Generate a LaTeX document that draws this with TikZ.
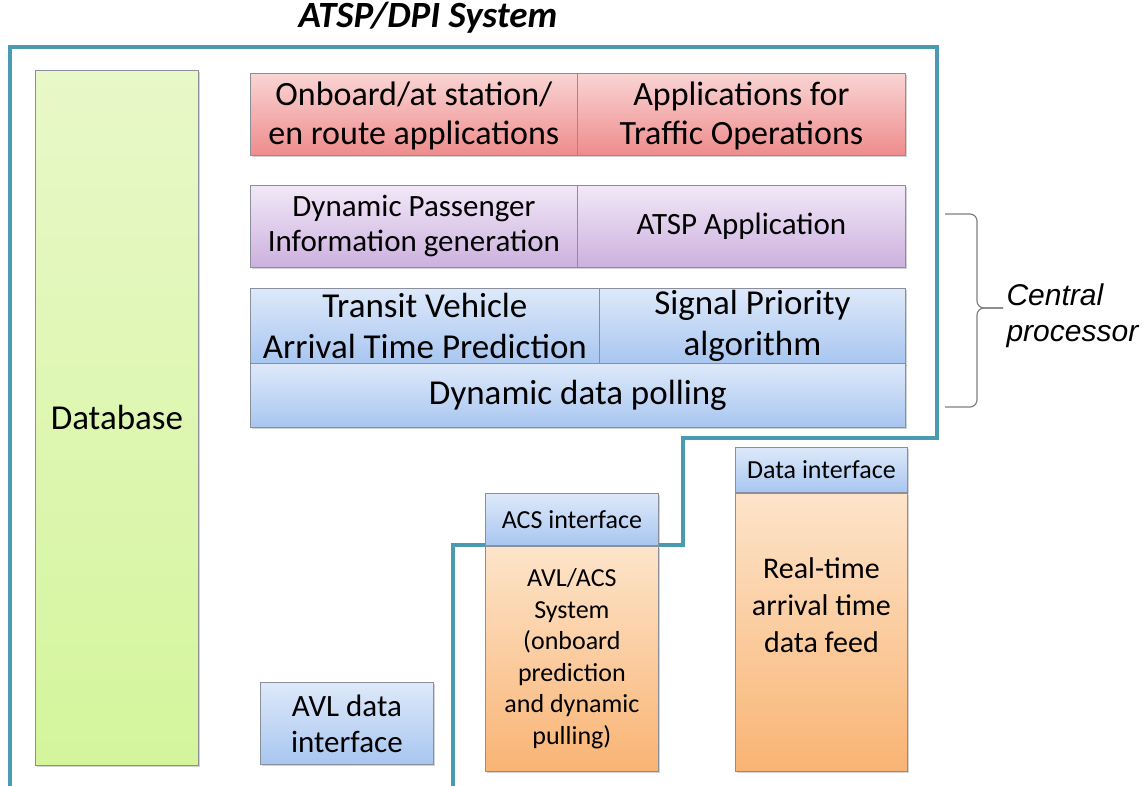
\documentclass[tikz,border=0pt]{standalone}
\usepackage{fontspec}
\setmainfont{Carlito}
\newfontfamily\arialfont{Liberation Sans}
\usetikzlibrary{shadows}
\definecolor{outlineteal}{HTML}{4A9BB2}
\definecolor{boxedge}{HTML}{8A8F99}
\tikzset{
  box/.style={draw=boxedge, line width=0.8pt, anchor=north west, align=center,
    inner sep=2pt, drop shadow={shadow xshift=1.5pt, shadow yshift=-2pt, opacity=0.35}},
  greenbox/.style={box, top color={rgb,255:red,232;green,248;blue,200}, bottom color={rgb,255:red,212;green,245;blue,156}},
  redbox/.style={box, top color={rgb,255:red,250;green,212;blue,212}, bottom color={rgb,255:red,238;green,140;blue,140}},
  purplebox/.style={box, top color={rgb,255:red,242;green,232;blue,248}, bottom color={rgb,255:red,204;green,176;blue,222}},
  bluebox/.style={box, top color={rgb,255:red,222;green,233;blue,250}, bottom color={rgb,255:red,168;green,198;blue,240}},
  orangebox/.style={box, top color={rgb,255:red,253;green,228;blue,202}, bottom color={rgb,255:red,249;green,180;blue,116}},
  bigtext/.style={font=\fontsize{34}{39}\selectfont},
  bluetext/.style={font=\fontsize{35}{41}\selectfont},
  midtext/.style={font=\fontsize{31}{35}\selectfont},
  smalltext/.style={font=\fontsize{26}{30}\selectfont},
  bracket/.style={gray, line width=1.2pt, rounded corners=7pt}
}
\begin{document}
\begin{tikzpicture}[x=1pt,y=-1pt]
  \useasboundingbox (0,0) rectangle (1146,786);
  % title and system outline
  \node (title) at (428,18) {\fontsize{37}{40}\selectfont\bfseries\itshape ATSP/DPI System};
  \draw[outlineteal, line width=3.5pt]
    (10,786) -- (10,47) -- (937,47) -- (937,438) -- (683,438) -- (683,545) -- (453,545) -- (453,786);
  % database
  \node[greenbox, font=\fontsize{35}{40}\selectfont, minimum width=163pt, minimum height=695pt] (db) at (35,70) {Database};
  % applications
  \node[redbox, bigtext, minimum width=327pt, minimum height=82pt, text depth=2pt] (onboard) at (250,73)
    {Onboard/at station/\\en route applications};
  \node[redbox, bigtext, minimum width=328pt, minimum height=82pt, text depth=2pt] (trafficops) at (577,73)
    {Applications for\\Traffic Operations};
  \node[purplebox, midtext, minimum width=327pt, minimum height=82pt] (dpi) at (250,185)
    {Dynamic Passenger\\Information generation};
  \node[purplebox, midtext, minimum width=328pt, minimum height=82pt] (atsp) at (577,185)
    {ATSP Application};
  % central processor
  \node[bluebox, bluetext, minimum width=349pt, minimum height=75pt] (arrival) at (250,288)
    {Transit Vehicle\\Arrival Time Prediction};
  \node[bluebox, bluetext, minimum width=306pt, minimum height=75pt] (priority) at (599,288)
    {Signal Priority\\algorithm};
  \node[bluebox, bluetext, minimum width=655pt, minimum height=64pt] (polling) at (250,363)
    {Dynamic data polling};
  \coordinate (bracetip) at (1003,308);
  \draw[bracket] (945,214) -- (977,214) -- (977,308) -- (bracetip);
  \draw[bracket] (945,407) -- (977,407) -- (977,308) -- (bracetip);
  \node[anchor=west, align=left, font=\arialfont\itshape\fontsize{30}{36}\selectfont] (central)
    at (1003,316) {Central\\processor};
  % external systems
  \node[bluebox, smalltext, minimum width=172pt, minimum height=45pt] (datainterface) at (735,447)
    {Data interface};
  \node[orangebox, font=\fontsize{30}{37}\selectfont, minimum width=172pt, minimum height=278pt, anchor=north,
    text depth=54pt] (feed) at (datainterface.south) {Real-time\\arrival time\\data feed};
  \node[bluebox, smalltext, minimum width=173pt, minimum height=52pt] (acs) at (485,493)
    {ACS interface};
  \node[orangebox, font=\fontsize{26}{31.5}\selectfont, minimum width=173pt, minimum height=225pt,
    anchor=north] (avlacs) at (acs.south)
    {AVL/ACS\\System\\(onboard\\prediction\\and dynamic\\pulling)};
  \node[bluebox, font=\fontsize{31}{36}\selectfont, minimum width=173pt, minimum height=82pt] (avl) at (260,682)
    {AVL data\\interface};
\end{tikzpicture}
\end{document}
